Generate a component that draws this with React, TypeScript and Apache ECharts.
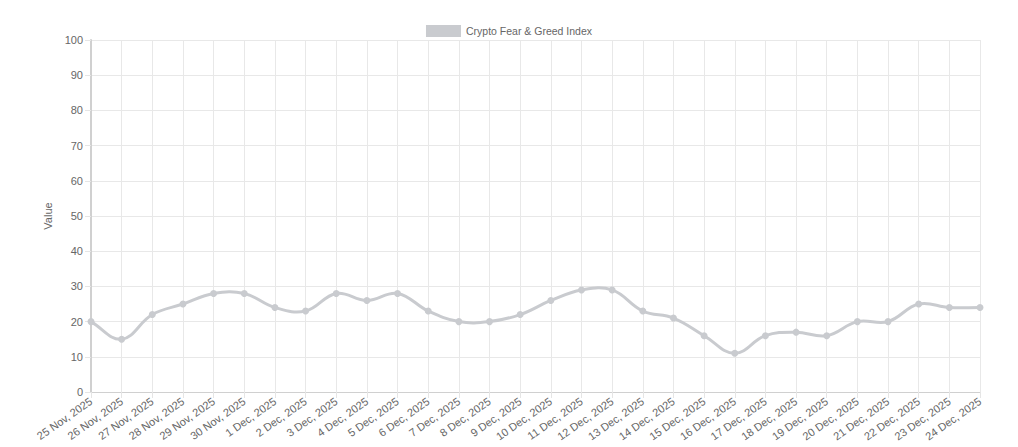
import React, { useEffect, useRef } from "react";
import * as echarts from "echarts";

const categories = [
  "25 Nov, 2025", "26 Nov, 2025", "27 Nov, 2025", "28 Nov, 2025", "29 Nov, 2025",
  "30 Nov, 2025", "1 Dec, 2025", "2 Dec, 2025", "3 Dec, 2025", "4 Dec, 2025",
  "5 Dec, 2025", "6 Dec, 2025", "7 Dec, 2025", "8 Dec, 2025", "9 Dec, 2025",
  "10 Dec, 2025", "11 Dec, 2025", "12 Dec, 2025", "13 Dec, 2025", "14 Dec, 2025",
  "15 Dec, 2025", "16 Dec, 2025", "17 Dec, 2025", "18 Dec, 2025", "19 Dec, 2025",
  "20 Dec, 2025", "21 Dec, 2025", "22 Dec, 2025", "23 Dec, 2025", "24 Dec, 2025",
];

const values = [
  20, 15, 22, 25, 28, 28, 24, 23, 28, 26,
  28, 23, 20, 20, 22, 26, 29, 29, 23, 21,
  16, 11, 16, 17, 16, 20, 20, 25, 24, 24,
];

const seriesName = "Crypto Fear & Greed Index";
const yAxisName = "Value";
const lineColor = "#c9cbcf";
const tension = 0.4;

// Chart.js-style spline path through pixel points
function splinePath(pts: number[][]): string {
  const n = pts.length;
  const cps: { px: number; py: number; nx: number; ny: number }[] = [];
  for (let i = 0; i < n; i++) {
    const cur = pts[i];
    const prev = i > 0 ? pts[i - 1] : cur;
    const next = i < n - 1 ? pts[i + 1] : cur;
    const d01 = Math.hypot(cur[0] - prev[0], cur[1] - prev[1]);
    const d12 = Math.hypot(next[0] - cur[0], next[1] - cur[1]);
    let s01 = d01 / (d01 + d12);
    let s12 = d12 / (d01 + d12);
    if (!isFinite(s01)) s01 = 0;
    if (!isFinite(s12)) s12 = 0;
    const fa = tension * s01;
    const fb = tension * s12;
    cps.push({
      px: cur[0] - fa * (next[0] - prev[0]),
      py: cur[1] - fa * (next[1] - prev[1]),
      nx: cur[0] + fb * (next[0] - prev[0]),
      ny: cur[1] + fb * (next[1] - prev[1]),
    });
  }
  let d = `M${pts[0][0]},${pts[0][1]}`;
  for (let i = 1; i < n; i++) {
    d += ` C${cps[i - 1].nx},${cps[i - 1].ny} ${cps[i].px},${cps[i].py} ${pts[i][0]},${pts[i][1]}`;
  }
  return d;
}

export default function App() {
  const ref = useRef<HTMLDivElement>(null);
  useEffect(() => {
    if (!ref.current) return;
    const chart = echarts.init(ref.current, null, { renderer: "svg" });
    const font = "'Liberation Sans', Arial, Helvetica, sans-serif";
    chart.setOption({
      animation: false,
      textStyle: { fontFamily: font },
      legend: {
        top: 12,
        left: "center",
        data: [{ name: seriesName, icon: "rect", itemStyle: { color: lineColor } }],
        itemWidth: 35,
        itemHeight: 12,
        itemGap: 10,
        textStyle: { color: "#666", fontSize: 10.5, fontFamily: font },
      },
      grid: {
        left: 83,
        right: 30,
        top: 32,
        bottom: 55,
        containLabel: false,
        outerBoundsMode: "none",
      },
      xAxis: {
        type: "category",
        data: categories,
        boundaryGap: false,
        axisLine: { show: true, lineStyle: { color: "#d0d0d0", width: 1 } },
        axisTick: { show: true, alignWithLabel: true, length: 6, lineStyle: { color: "#e5e5e5" } },
        axisLabel: {
          rotate: 35,
          color: "#666",
          fontSize: 11,
          fontFamily: font,
          interval: 0,
          margin: 8,
        },
        splitLine: { show: true, lineStyle: { color: "#e8e8e8", width: 1 } },
      },
      yAxis: {
        type: "value",
        min: 0,
        max: 100,
        interval: 10,
        name: yAxisName,
        nameLocation: "middle",
        nameGap: 33,
        nameRotate: 90,
        nameTextStyle: { color: "#666", fontSize: 11, fontFamily: font },
        axisLine: { show: true, lineStyle: { color: "#d0d0d0", width: 2 } },
        axisTick: { show: true, length: 6, lineStyle: { color: "#e5e5e5" } },
        axisLabel: { color: "#666", fontSize: 11, fontFamily: font, margin: 8 },
        splitLine: { show: true, lineStyle: { color: "#e8e8e8", width: 1 } },
      },
      series: [
        {
          name: seriesName,
          type: "line",
          data: values,
          z: 4,
          symbol: "circle",
          symbolSize: 7,
          showAllSymbol: true,
          lineStyle: { color: lineColor, width: 0, opacity: 0 },
          itemStyle: { color: lineColor },
        },
        {
          name: seriesName,
          type: "custom",
          z: 3,
          silent: true,
          clip: false,
          data: values.map((v, i) => [i, v]),
          encode: { x: 0, y: 1 },
          itemStyle: { color: lineColor },
          renderItem: (params: any, api: any) => {
            if (params.dataIndex !== 0) return null;
            const pts = values.map((v, i) => api.coord([i, v]));
            return {
              type: "path",
              shape: { pathData: splinePath(pts) },
              style: { fill: "none", stroke: lineColor, lineWidth: 3 },
            };
          },
        },
      ],
    });
    return () => chart.dispose();
  }, []);
  return <div ref={ref} style={{ width: 1002, height: 439 }} />;
}
